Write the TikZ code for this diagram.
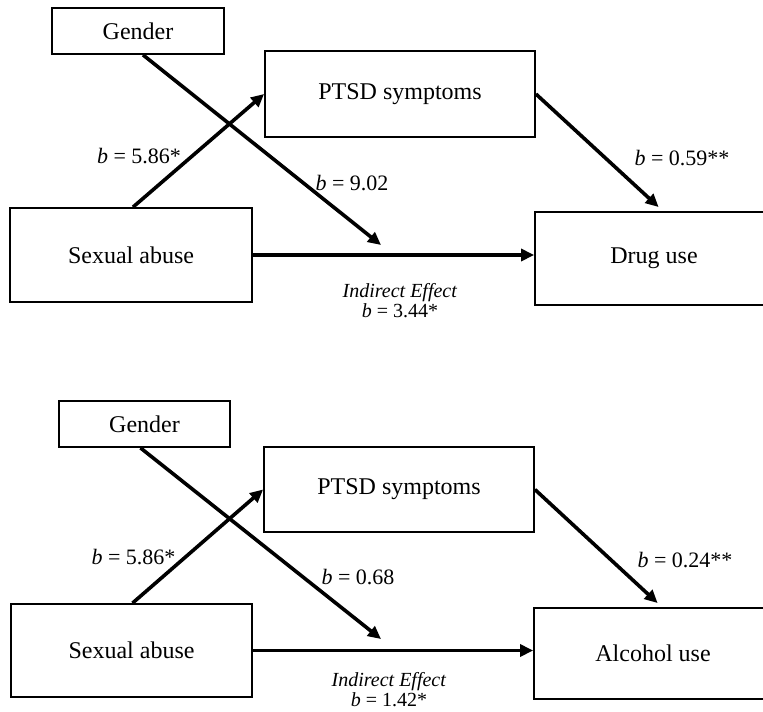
\documentclass[tikz,border=0pt]{standalone}
\usepackage{fontspec}
\setmainfont{Liberation Serif}
\usetikzlibrary{arrows.meta}

\newlength{\du}
\setlength{\du}{0.5pt}

\tikzset{
  varbox/.style={draw, line width=0.9pt, inner sep=0pt, font=\fontsize{12}{14}\selectfont},
  patharrow/.style={line width=1.8pt, -{Triangle[length=6.5pt,width=6pt]}},
  coeflabel/.style={inner sep=0pt, font=\fontsize{11}{13}\selectfont},
  effectlabel/.style={inner sep=0pt, align=center, font=\fontsize{10}{9}\selectfont},
}

\begin{document}
\begin{tikzpicture}
\pgftransformyscale{-1.000000}
\path[use as bounding box, clip] (0\du,0\du) rectangle (763\du,711\du);
% top panel: drug use
\node[varbox, minimum width=172\du, minimum height=46\du] (gender1) at (138\du,31\du) {Gender};
\node[varbox, minimum width=270\du, minimum height=86\du] (ptsd1) at (400\du,94\du) {PTSD symptoms};
\node[varbox, minimum width=242\du, minimum height=94\du] (abuse1) at (131\du,255\du) {Sexual abuse};
\node[varbox, minimum width=238\du, minimum height=93\du] (drug1) at (654\du,258.5\du) {Drug use};
\coordinate (mod1) at (381\du,245\du);
\draw[patharrow] ([xshift=2\du]abuse1.north) -- (ptsd1.west);
\draw[patharrow] ([xshift=5\du]gender1.south) -- (mod1);
\draw[patharrow] (abuse1.east) -- (abuse1.east -| drug1.west);
\draw[patharrow, shorten >=6\du] (ptsd1.east) -- ([xshift=9\du]drug1.north);
\node[coeflabel] (ba1) at (139\du,156\du) {\textit{b} = 5.86*};
\node[coeflabel] (bg1) at (352\du,183\du) {\textit{b} = 9.02};
\node[coeflabel] (bp1) at (682\du,158\du) {\textit{b} = 0.59**};
\node[effectlabel] (ind1) at (400\du,301\du) {\textit{Indirect Effect}\\\textit{b} = 3.44*};
% bottom panel: alcohol use
\node[varbox, minimum width=171\du, minimum height=46\du] (gender2) at (144.5\du,424\du) {Gender};
\node[varbox, minimum width=270\du, minimum height=85\du] (ptsd2) at (399\du,489.5\du) {PTSD symptoms};
\node[varbox, minimum width=241\du, minimum height=93\du] (abuse2) at (131.5\du,650.5\du) {Sexual abuse};
\node[varbox, minimum width=238\du, minimum height=91\du] (alcohol2) at (653\du,653.5\du) {Alcohol use};
\coordinate (mod2) at (381\du,639\du);
\draw[patharrow] ([xshift=1\du]abuse2.north) -- (ptsd2.west);
\draw[patharrow] ([xshift=-4\du]gender2.south) -- (mod2);
\draw[patharrow] (abuse2.east) -- (abuse2.east -| alcohol2.west);
\draw[patharrow, shorten >=6\du] (ptsd2.east) -- ([xshift=9\du]alcohol2.north);
\node[coeflabel] (ba2) at (133.5\du,557\du) {\textit{b} = 5.86*};
\node[coeflabel] (bg2) at (358\du,577\du) {\textit{b} = 0.68};
\node[coeflabel] (bp2) at (685\du,560\du) {\textit{b} = 0.24**};
\node[effectlabel] (ind2) at (389\du,690\du) {\textit{Indirect Effect}\\\textit{b} = 1.42*};
\end{tikzpicture}
\end{document}
